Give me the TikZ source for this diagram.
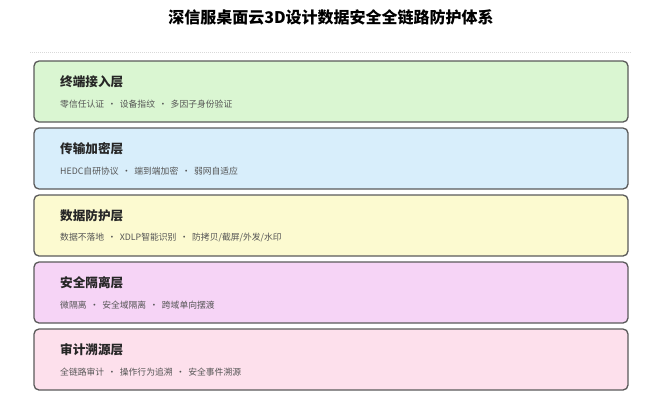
\documentclass[tikz,border=0pt]{standalone}
\usepackage{fontspec}
\setmainfont{Noto Sans CJK SC}
\usetikzlibrary{positioning}

\definecolor{layerGreen}{HTML}{DAF6D2}
\definecolor{layerBlue}{HTML}{D8EEFB}
\definecolor{layerYellow}{HTML}{FCFAD0}
\definecolor{layerPurple}{HTML}{F6D4F6}
\definecolor{layerPink}{HTML}{FDE0EC}
\definecolor{edgeGray}{HTML}{5A5A5A}
\definecolor{subGray}{HTML}{555555}

\tikzset{
  layerbox/.style={shape=rectangle, rounded corners=5pt, draw=edgeGray, line width=1.3pt,
    minimum width=594pt, minimum height=61pt, inner sep=0pt},
  layertitle/.style={anchor=west, inner sep=0pt, font=\fontsize{12.6}{15}\selectfont\bfseries, text=black!85},
  layerdesc/.style={anchor=west, inner sep=0pt, font=\fontsize{8.8}{10}\selectfont, text=subGray}
}

\begin{document}
\begin{tikzpicture}[x=1pt,y=-1pt]
\useasboundingbox (0,0) rectangle (662,410);

\path (331,17) node (T) [inner sep=0pt, font=\fontsize{16}{19}\selectfont\bfseries] {深信服桌面云3D设计数据安全全链路防护体系};
\coordinate (HL) at (30,52);
\coordinate (HR) at (632,52);
\draw[black!15, line width=0.4pt, dash pattern=on 1pt off 1pt] (HL) -- (HR);

% layers
\path (331,91.5) node (L1) [layerbox, fill=layerGreen] {};
\path (331,158.5) node (L2) [layerbox, fill=layerBlue] {};
\path (331,225.5) node (L3) [layerbox, fill=layerYellow] {};
\path (331,292.5) node (L4) [layerbox, fill=layerPurple] {};
\path (331,359.5) node (L5) [layerbox, fill=layerPink] {};

\path (60,82) node (L1t) [layertitle] {终端接入层};
\path (60,104) node (L1d) [layerdesc] {零信任认证 \,·\, 设备指纹 \,·\, 多因子身份验证};
\path (60,149) node (L2t) [layertitle] {传输加密层};
\path (60,171) node (L2d) [layerdesc] {HEDC自研协议 \,·\, 端到端加密 \,·\, 弱网自适应};
\path (60,216) node (L3t) [layertitle] {数据防护层};
\path (60,238) node (L3d) [layerdesc] {数据不落地 \,·\, XDLP智能识别 \,·\, 防拷贝/截屏/外发/水印};
\path (60,283) node (L4t) [layertitle] {安全隔离层};
\path (60,305) node (L4d) [layerdesc] {微隔离 \,·\, 安全域隔离 \,·\, 跨域单向摆渡};
\path (60,350) node (L5t) [layertitle] {审计溯源层};
\path (60,372) node (L5d) [layerdesc] {全链路审计 \,·\, 操作行为追溯 \,·\, 安全事件溯源};

\end{tikzpicture}
\end{document}
